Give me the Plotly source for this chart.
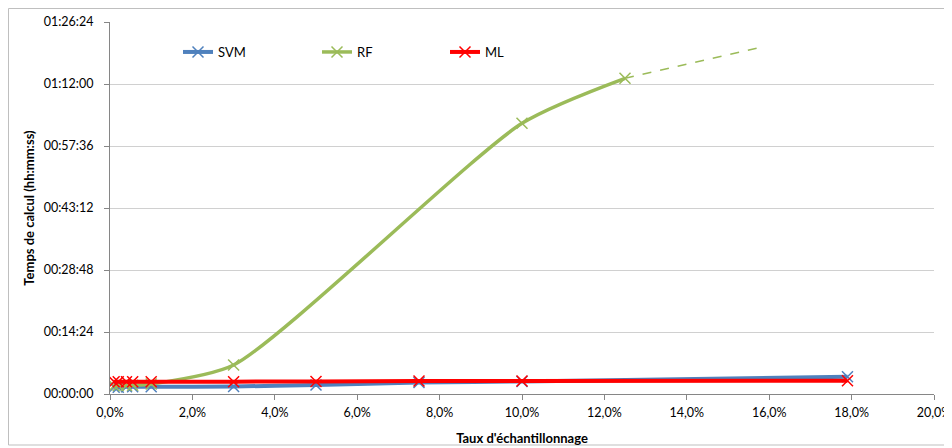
import plotly.graph_objects as go

# Sampling rate (%)
x_svm = [0.1, 0.2, 0.4, 0.55, 1.0, 3.0, 5.0, 7.5, 10.0, 17.9]
x_rf = [0.1, 0.2, 0.4, 0.55, 1.0, 3.0, 10.0, 12.5]
x_ml = [0.1, 0.2, 0.4, 0.55, 1.0, 3.0, 5.0, 7.5, 10.0, 17.9]
x_rf_ext = [12.5, 15.8]

# Computation time (seconds)
svm_sec = [95, 95, 100, 100, 100, 105, 125, 160, 175, 241]
rf_sec = [115, 118, 120, 122, 140, 404, 3772, 4399]
ml_sec = [170, 170, 170, 170, 170, 172, 175, 180, 180, 185]
rf_ext_sec = [4399, 4831]

y_tickvals = [0, 864, 1728, 2592, 3456, 4320, 5184]
y_ticktext = ["00:00:00", "00:14:24", "00:28:48", "00:43:12", "00:57:36", "01:12:00", "01:26:24"]
x_tickvals = [0, 2, 4, 6, 8, 10, 12, 14, 16, 18, 20]
x_ticktext = ["0,0%", "2,0%", "4,0%", "6,0%", "8,0%", "10,0%", "12,0%", "14,0%", "16,0%", "18,0%", "20,0%"]

BLUE = "#4f81bd"
GREEN = "#9bbb59"
RED = "#ff0000"
FONT = "Lato"

fig = go.Figure()

fig.add_trace(go.Scatter(
    x=x_svm, y=svm_sec, name="SVM", mode="lines+markers",
    line=dict(color=BLUE, width=4, shape="spline", smoothing=0.6),
    marker=dict(symbol="x-thin", size=11, line=dict(color=BLUE, width=1.5)),
    legend="legend"))
fig.add_trace(go.Scatter(
    x=x_rf_ext, y=rf_ext_sec, mode="lines", showlegend=False,
    line=dict(color=GREEN, width=1.5, dash="dash")))
fig.add_trace(go.Scatter(
    x=x_rf, y=rf_sec, name="RF", mode="lines+markers",
    line=dict(color=GREEN, width=3.5, shape="spline", smoothing=0.65),
    marker=dict(symbol="x-thin", size=11, line=dict(color=GREEN, width=1.5)),
    legend="legend2"))
fig.add_trace(go.Scatter(
    x=x_ml, y=ml_sec, name="ML", mode="lines+markers",
    line=dict(color=RED, width=4, shape="spline", smoothing=0.6),
    marker=dict(symbol="x-thin", size=11, line=dict(color=RED, width=1.5)),
    legend="legend3"))

# The page body has an 8px margin, so the figure starts at (8, 8) on screen.
OFF = 8
W, H = 952 - OFF, 448 - OFF
L, R, T, B = 110 - OFF, 18, 22 - OFF, 54
PW = W - L - R
PH = H - T - B

def px_x(screen_x):
    return (screen_x - OFF - L) / PW

def px_y(screen_y):
    return (H - B - (screen_y - OFF)) / PH

leg_common = dict(orientation="h", xanchor="left", yanchor="middle",
                  bgcolor="rgba(0,0,0,0)", font=dict(family=FONT, size=13, color="#000000"),
                  itemwidth=30, tracegroupgap=0)

fig.update_layout(
    width=W, height=H,
    margin=dict(l=L, r=R, t=T, b=B, autoexpand=False),
    paper_bgcolor="white", plot_bgcolor="white",
    font=dict(family=FONT, size=12, color="#000000"),
    legend=dict(x=px_x(178), y=px_y(52), **leg_common),
    legend2=dict(x=px_x(317), y=px_y(52), **leg_common),
    legend3=dict(x=px_x(445), y=px_y(52), **leg_common),
    xaxis=dict(
        range=[0, 20], tickvals=x_tickvals, ticktext=x_ticktext, automargin=False,
        showgrid=False, zeroline=False, showline=True, linecolor="#868686", linewidth=1,
        ticks="outside", ticklen=5, tickcolor="#868686", ticklabelstandoff=2,
        tickfont=dict(family=FONT, size=12.5),
        title=dict(text="<b>Taux d'échantillonnage</b>", font=dict(family=FONT, size=13), standoff=14),
    ),
    yaxis=dict(
        range=[0, 5184], tickvals=y_tickvals, ticktext=y_ticktext, automargin=False,
        showgrid=True, gridcolor="#d0d0d0", gridwidth=1, zeroline=False,
        showline=True, linecolor="#868686", linewidth=1,
        ticks="outside", ticklen=5, tickcolor="#868686",
        ticklabelstandoff=8,
        tickfont=dict(family=FONT, size=12.5),
        title=dict(text="<b>Temps de calcul (hh:mm:ss)</b>", font=dict(family=FONT, size=13), standoff=6),
    ),
    shapes=[dict(type="rect", xref="paper", yref="paper",
                 x0=px_x(OFF + 0.5), x1=px_x(946), y0=px_y(445), y1=px_y(OFF + 0.5),
                 line=dict(color="#bfbfbf", width=1), layer="below")],
)

fig.write_html("out.html")
